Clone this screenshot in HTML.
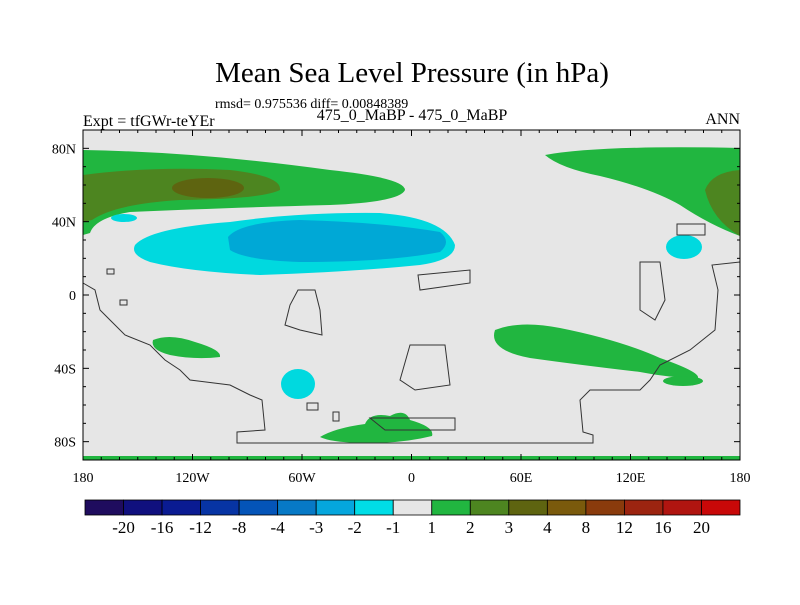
<!DOCTYPE html>
<html><head><meta charset="utf-8"><style>
body{margin:0;background:#fff;font-family:"Liberation Serif",serif}
svg text{font-family:"Liberation Serif",serif}
</style></head><body>
<svg id="chart" width="800" height="600" viewBox="0 0 800 600" xmlns="http://www.w3.org/2000/svg">
<text x="412" y="82" font-size="29" text-anchor="middle">Mean Sea Level Pressure (in hPa)</text>
<text x="215" y="108" font-size="14">rmsd= 0.975536 diff= 0.00848389</text>
<text x="83" y="126" font-size="16">Expt = tfGWr-teYEr</text>
<text x="412" y="120" font-size="16" text-anchor="middle">475_0_MaBP - 475_0_MaBP</text>
<text x="740" y="124" font-size="16" text-anchor="end">ANN</text>
<g>
<rect x="83" y="130" width="657" height="330" fill="#e6e6e6"/>
<path fill="#21b640" d="M83,150 Q200,152 330,170 Q405,178 405,190 Q400,202 330,205 Q220,208 130,212 Q95,218 90,233 L83,235 Z"/>
<path fill="#4d8520" d="M83,175 Q150,166 230,170 Q282,176 280,190 Q262,199 180,200 Q115,204 92,220 L83,222 Z"/>
<ellipse cx="208" cy="188" rx="36" ry="10" fill="#5e6410"/>
<path fill="#00d9df" d="M135,245 Q150,228 230,222 Q300,212 380,213 Q445,218 455,245 Q455,260 420,265 Q350,272 260,275 Q190,272 150,262 Q130,255 135,245 Z"/>
<path fill="#00a8d6" d="M228,237 Q240,222 300,220 Q380,222 440,232 Q452,242 440,252 Q390,262 300,262 Q245,260 230,250 Z"/>
<ellipse cx="124" cy="218" rx="13" ry="4" fill="#00d9df"/>
<path fill="#21b640" d="M545,155 Q600,145 740,148 L740,236 Q710,225 680,205 Q650,188 600,176 Q560,168 545,155 Z"/>
<path fill="#4d8520" d="M740,170 Q712,172 705,190 Q712,220 740,236 Z"/>
<ellipse cx="684" cy="247" rx="18" ry="12" fill="#00d9df"/>
<path fill="#21b640" d="M495,330 Q520,320 560,328 Q620,340 660,358 Q700,372 698,378 Q670,378 640,372 Q580,365 530,358 Q488,350 495,330 Z"/>
<ellipse cx="683" cy="381" rx="20" ry="5" fill="#21b640"/>
<path fill="#21b640" d="M153,340 Q170,333 195,342 Q222,350 220,357 Q195,360 170,355 Q150,350 153,340 Z"/>
<ellipse cx="298" cy="384" rx="17" ry="15" fill="#00d9df"/>
<path fill="#21b640" d="M320,437 Q335,428 365,424 Q370,412 390,416 Q405,408 410,420 Q435,427 432,436 Q400,444 360,443 Q330,442 320,437 Z"/>
<rect x="83" y="456" width="657" height="4" fill="#21b640"/>
<g fill="none" stroke="#333" stroke-width="1">
<path d="M83,283 L95,290 L100,310 L110,320 L125,335 L150,345 L165,360 L180,370 L190,380 L230,385 L250,395 L262,400 L265,430 L237,432 L237,443 L593,443 L593,435 L583,432 L580,400 L590,390 L640,390 L650,380 L660,365 L690,350 L715,330 L718,290 L712,265 L740,262"/>
<path d="M418,275 L470,270 L470,283 L420,290 Z"/>
<path d="M298,290 L315,290 L320,310 L322,335 L300,330 L285,325 L290,305 Z"/>
<path d="M410,345 L445,345 L450,385 L415,390 L400,380 Z"/>
<path d="M640,262 L660,262 L665,300 L655,320 L640,310 Z"/>
<path d="M677,224 L705,224 L705,235 L677,235 Z"/>
<rect x="107" y="269" width="7" height="5"/>
<rect x="120" y="300" width="7" height="5"/>
<rect x="307" y="403" width="11" height="7"/>
<rect x="333" y="412" width="6" height="9"/>
<path d="M370,418 L455,418 L455,430 L385,430 Z"/>
</g>
<rect x="83" y="130" width="657" height="330" fill="none" stroke="#000" stroke-width="1"/>
</g>
<g id="axes"></g>
<g id="colorbar"></g>
</svg>
<script>
const lonTicks=[-180,-120,-60,0,60,120,180];
const lonLabels=["180","120W","60W","0","60E","120E","180"];
const latTicks=[80,40,0,-40,-80];
const latLabels=["80N","40N","0","40S","80S"];
const cbColors=["#1f0c5e","#10107e","#0a1b92","#0734a4","#0454b8","#0779c6","#05a6dd","#00dde6","#e6e6e6","#21b640","#4d8520","#5e6410","#7a5a0c","#8a3b0c","#9c2410","#b01510","#c80808"];
const cbLabels=["-20","-16","-12","-8","-4","-3","-2","-1","1","2","3","4","8","12","16","20"];
const NS="http://www.w3.org/2000/svg";
const X0=83,X1=740,Y0=130,Y1=460;
const xLon=l=>X0+(l+180)/360*(X1-X0);
const yLat=l=>Y0+(90-l)/180*(Y1-Y0);
function mk(t,a,p){const e=document.createElementNS(NS,t);for(const k in a)e.setAttribute(k,a[k]);p.appendChild(e);return e;}
const ax=document.getElementById('axes');
for(let l=-180;l<=180;l+=10){const x=xLon(l);const big=l%60===0;const len=big?6:3;
 mk('line',{x1:x,x2:x,y1:Y0,y2:Y0+len,stroke:'#000'},ax);mk('line',{x1:x,x2:x,y1:Y1,y2:Y1-len,stroke:'#000'},ax);}
for(let l=-90;l<=90;l+=10){const y=yLat(l);const big=(l+80)%40===0;const len=big?6:3;
 mk('line',{x1:X0,x2:X0+len,y1:y,y2:y,stroke:'#000'},ax);mk('line',{x1:X1,x2:X1-len,y1:y,y2:y,stroke:'#000'},ax);}
lonTicks.forEach((l,i)=>{const t=mk('text',{x:xLon(l),y:482,'font-size':14,'text-anchor':'middle'},ax);t.textContent=lonLabels[i];

});
latTicks.forEach((l,i)=>{const t=mk('text',{x:76,y:yLat(l)+5,'font-size':14,'text-anchor':'end'},ax);t.textContent=latLabels[i];

});
const cb=document.getElementById('colorbar');
const cx0=85,cx1=740,cw=(cx1-cx0)/cbColors.length;
cbColors.forEach((c,i)=>{const r=mk('rect',{x:cx0+i*cw,y:500,width:cw,height:15,fill:c,stroke:'#000','stroke-width':0.8},cb);

});
cbLabels.forEach((s,i)=>{const t=mk('text',{x:cx0+(i+1)*cw,y:533,'font-size':17,'text-anchor':'middle'},cb);t.textContent=s;

});
</script>
</body></html>
